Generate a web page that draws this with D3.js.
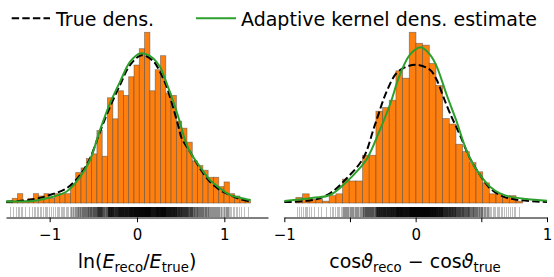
<!DOCTYPE html>
<html>
<head>
<meta charset="utf-8">
<script src="https://cdn.jsdelivr.net/npm/d3@7"></script>
<style>
  body { margin: 0; background: #fff; }
  svg { display: block; font-family: "DejaVu Sans", sans-serif; }
</style>
</head>
<body>
<div id="chart"></div>
<script>
// histogram counts, left panel: ln(E_reco/E_true)
var leftRange = [-1.49, 1.30];
var leftCounts = [1, 2, 4, 1, 2, 4, 3, 4, 2, 4,
    4, 4, 8, 13, 15, 19, 21, 31, 20, 45,
    36, 48, 46, 54, 59, 66, 73, 48, 57, 63,
    47, 46, 35, 32, 26, 18, 16, 14, 11, 11,
    7, 9, 4, 3, 2, 1];

// histogram counts, right panel: cos(theta_reco) - cos(theta_true)
var rightRange = [-0.912, 0.815];
var rightCounts = [3, 5, 2, 2, 1, 4, 5, 13, 12, 12,
    26, 26, 50, 52, 56, 72, 68, 93, 87, 86,
    76, 64, 46, 43, 32, 28, 22, 17, 11, 5,
    5, 3, 4, 1];

// density curves: [x, density]
var leftTrue = [[-1.5, 0.007], [-1.19, 0.025], [-1.0, 0.054], [-0.805, 0.10], [-0.653, 0.19],
    [-0.538, 0.303], [-0.424, 0.483], [-0.309, 0.653], [-0.195, 0.80], [-0.08, 0.936],
    [0.054, 1.003], [0.187, 0.963], [0.263, 0.89], [0.34, 0.788], [0.47, 0.529],
    [0.512, 0.439], [0.607, 0.348], [0.721, 0.235], [0.836, 0.144], [0.95, 0.088],
    [1.065, 0.054], [1.179, 0.027], [1.302, 0.009]];
var leftKde = [[-1.5, 0.01], [-1.19, 0.014], [-1.0, 0.037], [-0.805, 0.078], [-0.653, 0.176],
    [-0.538, 0.292], [-0.424, 0.495], [-0.309, 0.676], [-0.195, 0.822], [-0.08, 0.958],
    [0.034, 1.015], [0.103, 1.01], [0.187, 0.981], [0.263, 0.924], [0.34, 0.812],
    [0.416, 0.687], [0.484, 0.563], [0.55, 0.427], [0.607, 0.348], [0.721, 0.246],
    [0.836, 0.156], [0.95, 0.10], [1.065, 0.054], [1.179, 0.036], [1.302, 0.02]];

var rightTrue = [[-1.0, 0.01], [-0.78, 0.031], [-0.652, 0.101], [-0.525, 0.257], [-0.399, 0.466],
    [-0.31, 0.8125], [-0.221, 1.159], [-0.145, 1.351], [-0.069, 1.417], [0.008, 1.4375],
    [0.109, 1.385], [0.16, 1.281], [0.21, 1.107], [0.261, 0.934], [0.337, 0.708],
    [0.413, 0.466], [0.49, 0.292], [0.566, 0.153], [0.667, 0.066], [0.769, 0.034],
    [0.946, 0.014], [1.0, 0.01]];
var rightKde = [[-1.0, 0.021], [-0.78, 0.055], [-0.652, 0.083], [-0.525, 0.222], [-0.449, 0.326],
    [-0.368, 0.466], [-0.272, 0.76], [-0.196, 1.021], [-0.12, 1.333], [-0.043, 1.542],
    [0.038, 1.618], [0.109, 1.542], [0.16, 1.42], [0.236, 1.125], [0.312, 0.847],
    [0.362, 0.639], [0.413, 0.466], [0.49, 0.292], [0.566, 0.17], [0.642, 0.101],
    [0.718, 0.066], [0.845, 0.042], [1.0, 0.024]];

var leftTicks = [-1, 0, 1];
var rightTicks = [-1, -0.5, 0, 0.5, 1];

var legendLabels = ["True dens.", "Adaptive kernel dens. estimate"];

var svgWidth = 554, svgHeight = 277;
var baseY = 203, topY = 32.3, axisY = 217.5;

var svg = d3.select("#chart").append("svg")
    .attr("width", svgWidth)
    .attr("height", svgHeight);

svg.append("rect").attr("width", svgWidth).attr("height", svgHeight).attr("fill", "#fff");

function drawPanel(opt) {
    var x = d3.scaleLinear().domain(opt.domain).range(opt.range);

    // bin edges and densities
    var n = opt.counts.length;
    var total = d3.sum(opt.counts);
    var w = (opt.histRange[1] - opt.histRange[0]) / n;
    var bins = opt.counts.map(function(c, i) {
        return { x0: opt.histRange[0] + i * w, x1: opt.histRange[0] + (i + 1) * w, c: c, d: c / (total * w) };
    });

    var y = d3.scaleLinear()
        .domain([0, d3.max(bins, function(b) { return b.d; })])
        .range([baseY, topY]);

    var g = svg.append("g");

    g.selectAll("rect.bar")
        .data(bins)
        .enter()
        .append("rect")
        .attr("class", "bar")
        .attr("x", function(b) { return x(b.x0); })
        .attr("y", function(b) { return y(b.d); })
        .attr("width", function(b) { return x(b.x1) - x(b.x0); })
        .attr("height", function(b) { return y(0) - y(b.d); })
        .attr("fill", "#ff7f0e")
        .attr("stroke", "#444")
        .attr("stroke-opacity", 0.55)
        .attr("stroke-width", 0.8);

    // rug: each bin's samples spread across the bin
    var rug = [];
    bins.forEach(function(b) {
        for (var j = 0; j < b.c; j++) {
            rug.push(b.x0 + (j + 0.5) * (b.x1 - b.x0) / b.c);
        }
    });
    g.selectAll("line.rug")
        .data(rug)
        .enter()
        .append("line")
        .attr("x1", function(d) { return Math.round(x(d)) + 0.5; })
        .attr("x2", function(d) { return Math.round(x(d)) + 0.5; })
        .attr("y1", 207)
        .attr("y2", 217)
        .attr("stroke", "#000")
        .attr("stroke-opacity", 0.25)
        .attr("stroke-width", 1);

    var line = d3.line()
        .x(function(d) { return x(d[0]); })
        .y(function(d) { return y(d[1]); })
        .curve(d3.curveCatmullRom);

    g.append("path")
        .datum(opt.trueDens)
        .attr("d", line)
        .attr("fill", "none")
        .attr("stroke", "#000")
        .attr("stroke-width", 2)
        .attr("stroke-dasharray", "7.4,3.2");

    g.append("path")
        .datum(opt.kde)
        .attr("d", line)
        .attr("fill", "none")
        .attr("stroke", "#2ca02c")
        .attr("stroke-width", 2);

    // bottom axis
    var axis = d3.axisBottom(x)
        .tickValues(opt.ticks)
        .tickSizeInner(4.7)
        .tickSizeOuter(0)
        .tickPadding(7.4)
        .tickFormat(function(d) { return Number.isInteger(d) ? d3.format("d")(d) : ""; });

    var ax = g.append("g")
        .attr("transform", "translate(0," + axisY + ")")
        .call(axis);
    ax.select(".domain").attr("stroke", "#000").attr("stroke-width", 1);
    ax.selectAll(".tick line").attr("stroke", "#000").attr("stroke-width", 1);
    ax.selectAll(".tick text")
        .attr("fill", "#000")
        .style("font-size", "15px")
        .style("font-family", "DejaVu Sans");

    return { x: x, g: g };
}

var left = drawPanel({
    domain: [-1.5, 1.5], range: [6, 268],
    histRange: leftRange, counts: leftCounts,
    trueDens: leftTrue, kde: leftKde, ticks: leftTicks
});

var right = drawPanel({
    domain: [-1, 1], range: [284.3, 547],
    histRange: rightRange, counts: rightCounts,
    trueDens: rightTrue, kde: rightKde, ticks: rightTicks
});

// x labels
var lblL = svg.append("text")
    .attr("x", (6 + 268) / 2)
    .attr("y", 267.5)
    .attr("text-anchor", "middle")
    .style("font-size", "19px");
lblL.append("tspan").text("ln(");
lblL.append("tspan").attr("font-style", "italic").text("E");
lblL.append("tspan").attr("dy", 4).style("font-size", "13.3px").text("reco");
lblL.append("tspan").attr("dy", -4).text("/");
lblL.append("tspan").attr("font-style", "italic").text("E");
lblL.append("tspan").attr("dy", 4).style("font-size", "13.3px").text("true");
lblL.append("tspan").attr("dy", -4).text(")");

var lblR = svg.append("text")
    .attr("x", 415)
    .attr("y", 267.5)
    .attr("text-anchor", "middle")
    .style("font-size", "19px");
lblR.append("tspan").text("cos");
lblR.append("tspan").attr("font-style", "italic").text("\u03d1");
lblR.append("tspan").attr("dy", 4).style("font-size", "13.3px").text("reco");
lblR.append("tspan").attr("dy", -4).text(" \u2212 cos");
lblR.append("tspan").attr("font-style", "italic").text("\u03d1");
lblR.append("tspan").attr("dy", 4).style("font-size", "13.3px").text("true");

// legend
var legend = svg.append("g");
legend.append("line")
    .attr("x1", 11.7).attr("x2", 50).attr("y1", 18.3).attr("y2", 18.3)
    .attr("stroke", "#000").attr("stroke-width", 2).attr("stroke-dasharray", "7.4,3.2");
legend.append("text")
    .attr("x", 56).attr("y", 25.5)
    .style("font-size", "19px")
    .text(legendLabels[0]);
legend.append("line")
    .attr("x1", 196).attr("x2", 236).attr("y1", 18.3).attr("y2", 18.3)
    .attr("stroke", "#2ca02c").attr("stroke-width", 2);
legend.append("text")
    .attr("x", 241).attr("y", 25.5)
    .style("font-size", "19px")
    .text(legendLabels[1]);
</script>
</body>
</html>
